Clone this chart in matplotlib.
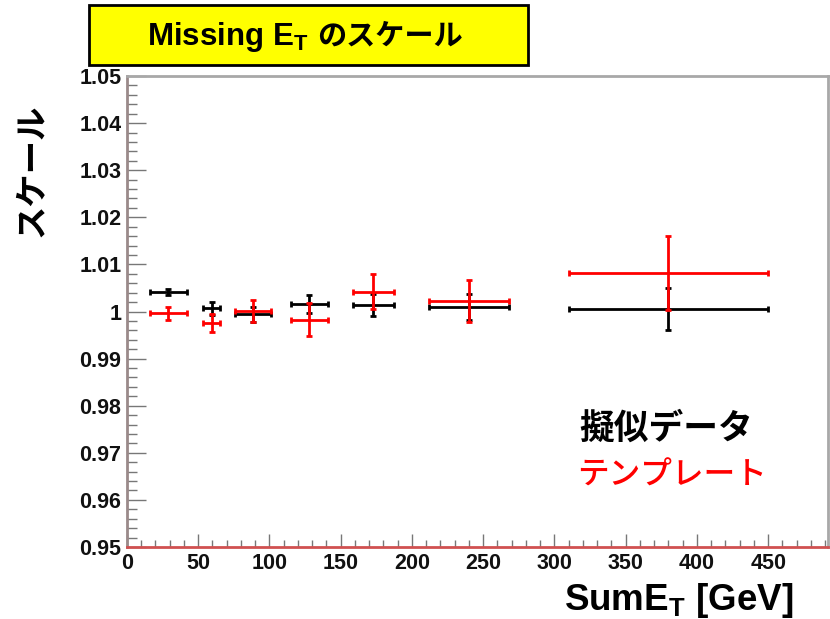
import matplotlib
matplotlib.use("Agg")
import matplotlib.pyplot as plt
from matplotlib.patches import Rectangle
from matplotlib.ticker import MultipleLocator

plt.rcParams['font.family'] = ['Liberation Sans', 'Noto Sans CJK JP', 'DejaVu Sans']
plt.rcParams['mathtext.fontset'] = 'custom'
plt.rcParams['mathtext.rm'] = 'Liberation Sans:bold'
plt.rcParams['mathtext.bf'] = 'Liberation Sans:bold'
plt.rcParams['mathtext.it'] = 'Liberation Sans:bold'

W, H = 830, 619

# SumET bins (centre, half width) in GeV
sumet = [29, 59.5, 88.5, 128, 173, 240, 380]
sumet_err = [13, 6, 12.5, 13, 14.7, 28, 70]

# pseudo-data scale
data_scale = [1.0041, 1.0007, 0.9994, 1.0015, 1.0014, 1.0009, 1.0005]
data_err = [0.0006, 0.0014, 0.0016, 0.0019, 0.0023, 0.0028, 0.0045]

# template scale
tmpl_scale = [0.9996, 0.9975, 1.0001, 0.9983, 1.0042, 1.0022, 1.0082]
tmpl_err = [0.0014, 0.0019, 0.0023, 0.0034, 0.0037, 0.0044, 0.0079]

fig = plt.figure(figsize=(W / 100, H / 100), dpi=100)
ax = fig.add_axes([127 / W, 72 / H, 701 / W, 471 / H])

ax.errorbar(sumet, data_scale, xerr=sumet_err, yerr=data_err, fmt='none',
            ecolor='black', elinewidth=2, capsize=2.5, capthick=2)
ax.errorbar(sumet, tmpl_scale, xerr=sumet_err, yerr=tmpl_err, fmt='none',
            ecolor='#ff0000', elinewidth=2, capsize=2.5, capthick=2)

ax.set_xlim(0, 492)
ax.set_ylim(0.95, 1.05)
ax.xaxis.set_major_locator(MultipleLocator(50))
ax.xaxis.set_minor_locator(MultipleLocator(10))
ax.yaxis.set_minor_locator(MultipleLocator(0.002))
ax.set_yticks([0.95 + 0.01 * i for i in range(11)])
ax.set_yticklabels(['0.95', '0.96', '0.97', '0.98', '0.99', '1', '1.01',
                    '1.02', '1.03', '1.04', '1.05'])

ax.tick_params(axis='both', which='both', direction='in', color='#777777',
               labelsize=15.5, top=False, right=False)
ax.tick_params(axis='x', which='major', length=9.5, width=1, pad=4)
ax.tick_params(axis='x', which='minor', length=5, width=1)
ax.tick_params(axis='y', which='major', length=14, width=1, pad=4)
ax.tick_params(axis='y', which='minor', length=7, width=1)
for lab in ax.get_xticklabels() + ax.get_yticklabels():
    lab.set_fontweight('bold')
    lab.set_color('#111111')

for side in ('top', 'right'):
    ax.spines[side].set_color('#a8a8a8')
    ax.spines[side].set_linewidth(2)
ax.spines['left'].set_color('#9a8a8a')
ax.spines['left'].set_linewidth(2)
ax.spines['bottom'].set_color('#d05050')
ax.spines['bottom'].set_linewidth(2)

# legend-like labels inside the frame
fig.text(579 / W, 1 - 429 / H, '擬似データ', fontsize=25, fontweight='bold',
         color='black', va='center', ha='left')
fig.text(577 / W, 1 - 477 / H, 'テンプレート', fontsize=22.8, fontweight='medium',
         color='#ff0000', va='center', ha='left')

# y and x axis titles
fig.text(32 / W, 1 - 170 / H, 'スケール', rotation=90, fontsize=24,
         fontweight='bold', ha='center', va='center')
fig.text(679 / W, 1 - 600 / H, r'SumE$_\mathbf{T}$ [GeV]', fontsize=26.5,
         fontweight='bold', ha='center', va='center')

# yellow title box
fig.patches.append(Rectangle((89 / W, 1 - 65 / H), 439 / W, 60 / H,
                             transform=fig.transFigure, facecolor='#ffff00',
                             edgecolor='black', linewidth=2))
t1 = fig.text(147 / W, 1 - 37 / H, r'Missing E$_\mathbf{T}$', fontsize=22.5,
              fontweight='bold', ha='left', va='center')
renderer = fig.canvas.get_renderer()
x_end = t1.get_window_extent(renderer).x1
fig.text((x_end + 9) / W, 1 - 37 / H, 'のスケール', fontsize=21,
         fontweight='bold', ha='left', va='center')

fig.savefig('out.png', dpi=100)
